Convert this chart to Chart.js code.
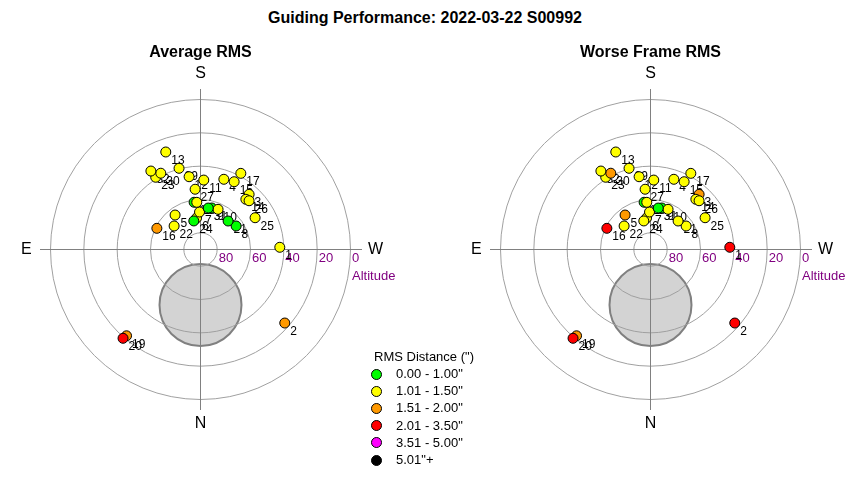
<!DOCTYPE html>
<html>
<head>
<meta charset="utf-8">
<script src="https://cdn.jsdelivr.net/npm/chart.js@4.4.1/dist/chart.umd.min.js"></script>
<style>
  body { margin: 0; width: 850px; height: 480px; background: #fff; position: relative; overflow: hidden;
         font-family: Arial, "Liberation Sans", sans-serif; }
  #title { position: absolute; top: 9px; left: 0; width: 850px; text-align: center;
           font-weight: bold; font-size: 16px; line-height: 18px; color: #000; }
  .plot { position: absolute; top: 0; width: 425px; height: 480px; }
  #legend { position: absolute; left: 0; top: 0; width: 850px; height: 480px; pointer-events: none; }
  .lg { position: absolute; font-size: 13px; line-height: 16px; color: #000; white-space: nowrap; }
  .dot { position: absolute; width: 9px; height: 9px; border: 1px solid #000; border-radius: 50%; }
</style>
</head>
<body>
<div id="title">Guiding Performance: 2022-03-22 S00992</div>
<div class="plot" style="left:0"><canvas id="avgChart"></canvas></div>
<div class="plot" style="left:425px"><canvas id="worstChart"></canvas></div>
<div id="legend"></div>

<script>
// FRAME DATA (azimuth from N through E, altitude in degrees)

const frameLabels = ["1","2","3","4","5","6","7","8","9","10","11","12","13","14","15","16",
  "17","18","19","20","21","22","23","24","25","26","27","28","29","30","31","32"];

const azimuth = [268.4, 311.1, 221.4, 198.4, 143.6, 172.8, 178.5, 236.6, 195.2, 203.6, 182.7, 171.1,
  160.4, 222.1, 206.4, 115.9, 207.9, 172.3, 40.6, 41.1, 224.1, 131.7, 148.2, 166.8, 239.8, 224.9,
  174.9, 175.5, 165.2, 152.5, 190.6, 147.7];

const altitude = [42.4, 22.9, 45.9, 45.6, 64.3, 71.0, 67.5, 64.4, 64.2, 63.7, 48.3, 45.8,
  27.9, 49.4, 44.6, 60.9, 38.3, 61.4, 21.8, 19.3, 66.2, 68.8, 39.0, 72.4, 52.1, 48.7,
  53.7, 61.6, 39.6, 38.4, 64.7, 34.3];

// RMS per frame (arcsec)
const avgRms = [1.30, 1.70, 1.40, 1.20, 1.30, 1.20, 1.10, 0.90, 0.90, 1.10, 1.20, 1.20,
  1.30, 1.20, 1.30, 1.60, 1.20, 0.95, 1.80, 2.10, 0.90, 1.10, 1.30, 0.90, 1.20, 1.20,
  1.10, 1.10, 1.30, 1.40, 0.90, 1.30];

const worstRms = [2.30, 2.60, 1.70, 1.40, 1.60, 1.40, 1.30, 1.20, 0.98, 1.30, 1.40, 1.40,
  1.50, 1.40, 1.50, 2.20, 1.40, 0.99, 1.90, 2.50, 1.20, 1.40, 1.50, 1.20, 1.40, 1.40,
  1.30, 1.40, 1.50, 1.60, 0.97, 1.50];

// LEGEND BINS

const binLimits = [1.00, 1.50, 2.00, 3.50, 5.00];
const binLabels = ['0.00 - 1.00"', '1.01 - 1.50"', '1.51 - 2.00"', '2.01 - 3.50"', '3.51 - 5.00"', '5.01"+'];
const binColors = ["#00ff00", "#ffff00", "#ff9900", "#ff0000", "#ff00ff", "#000000"];

// ALTITUDE RINGS

const ringAltitudes = [80, 60, 40, 20, 0];

// SHADED DISC (az, alt, radius in degrees)
const discAz = 0;
const discAlt = 56.7;
const discRadius = 24.6;


function toXY(az, alt) {
  const r = 90 - alt;
  const a = az * Math.PI / 180;
  return { x: -Math.sin(a) * r, y: -Math.cos(a) * r };
}

function rmsColor(v) {
  const i = binLimits.findIndex(t => v <= t);
  return binColors[i === -1 ? binColors.length - 1 : i];
}


// DECORATION PLUGIN

const polarDecor = {
  id: "polarDecor",
  beforeDatasetsDraw(chart, args, opts) {
    const ctx = chart.ctx;
    const xs = chart.scales.x, ys = chart.scales.y;
    const cx = xs.getPixelForValue(0), cy = ys.getPixelForValue(0);
    const k = xs.getPixelForValue(1) - cx;

    ctx.save();

    // disc
    const d = toXY(discAz, discAlt);
    ctx.beginPath();
    ctx.arc(xs.getPixelForValue(d.x), ys.getPixelForValue(d.y), discRadius * k, 0, Math.PI * 2);
    ctx.fillStyle = "#d3d3d3";
    ctx.fill();
    ctx.lineWidth = 2;
    ctx.strokeStyle = "#808080";
    ctx.stroke();

    // rings
    ctx.lineWidth = 1;
    ctx.strokeStyle = "#a0a0a0";
    ringAltitudes.forEach(a => {
      ctx.beginPath();
      ctx.arc(cx, cy, (90 - a) * k, 0, Math.PI * 2);
      ctx.stroke();
    });

    // cross
    ctx.strokeStyle = "#808080";
    ctx.beginPath();
    ctx.moveTo(xs.getPixelForValue(-96.3), cy);
    ctx.lineTo(xs.getPixelForValue(96.9), cy);
    ctx.moveTo(cx, ys.getPixelForValue(96.3));
    ctx.lineTo(cx, ys.getPixelForValue(-96.3));
    ctx.stroke();

    // ring labels
    ctx.fillStyle = "#800080";
    ctx.font = "13px Arial, 'Liberation Sans', sans-serif";
    ctx.textAlign = "left";
    ctx.textBaseline = "alphabetic";
    ringAltitudes.forEach(a => {
      ctx.fillText(String(a), cx + (90 - a) * k + 1.5, cy + 12.5);
    });
    ctx.fillText("Altitude", cx + 90 * k + 1.5, cy + 30);

    // directions
    ctx.fillStyle = "#000";
    ctx.font = "16px Arial, 'Liberation Sans', sans-serif";
    ctx.textAlign = "center";
    ctx.textBaseline = "middle";
    ctx.fillText("S", cx, ys.getPixelForValue(105.3));
    ctx.fillText("N", cx, ys.getPixelForValue(-104.7));
    ctx.fillText("E", xs.getPixelForValue(-104.5), cy);
    ctx.fillText("W", xs.getPixelForValue(105), cy);

    // subplot title
    ctx.font = "bold 16px Arial, 'Liberation Sans', sans-serif";
    ctx.fillText(opts.title, cx, 53);

    // point labels (under the points)
    ctx.font = "12px Arial, 'Liberation Sans', sans-serif";
    ctx.textAlign = "left";
    ctx.textBaseline = "alphabetic";
    const pts = chart.getDatasetMeta(0).data;
    pts.forEach((p, i) => {
      ctx.fillText(frameLabels[i], p.x + 5.5, p.y + 12);
    });

    ctx.restore();
  }
};


function makeChart(id, rms, title, padLeft, padRight) {
  return new Chart(document.getElementById(id), {
    type: "scatter",
    data: {
      datasets: [{
        data: azimuth.map((az, i) => toXY(az, altitude[i])),
        pointRadius: 5,
        pointHoverRadius: 5,
        pointBorderWidth: 1,
        pointBorderColor: "#000",
        pointBackgroundColor: rms.map(rmsColor)
      }]
    },
    options: {
      responsive: false,
      animation: false,
      events: [],
      layout: { padding: { left: padLeft, right: padRight, top: 69, bottom: 50 } },
      scales: {
        x: { display: false, min: -108.3, max: 108.3 },
        y: { display: false, min: -108.3, max: 108.3 }
      },
      plugins: {
        legend: { display: false },
        tooltip: { enabled: false },
        polarDecor: { title: title }
      }
    },
    plugins: [polarDecor]
  });
}

["avgChart", "worstChart"].forEach(id => {
  const c = document.getElementById(id);
  c.width = 425;
  c.height = 480;
  c.style.width = "425px";
  c.style.height = "480px";
});

const avgChart = makeChart("avgChart", avgRms, "Average RMS", 20, 44);
const worstChart = makeChart("worstChart", worstRms, "Worse Frame RMS", 45, 19);


// LEGEND

const legend = document.getElementById("legend");
const head = document.createElement("div");
head.className = "lg";
head.style.left = "374px";
head.style.top = "349px";
head.textContent = 'RMS Distance (")';
legend.appendChild(head);

binLabels.forEach((lab, i) => {
  const yc = 374 + i * 17.2;
  const dot = document.createElement("div");
  dot.className = "dot";
  dot.style.left = "371px";
  dot.style.top = (yc - 5.5) + "px";
  dot.style.background = binColors[i];
  legend.appendChild(dot);

  const t = document.createElement("div");
  t.className = "lg";
  t.style.left = "396px";
  t.style.top = (yc - 8) + "px";
  t.textContent = lab;
  legend.appendChild(t);
});
</script>
</body>
</html>
